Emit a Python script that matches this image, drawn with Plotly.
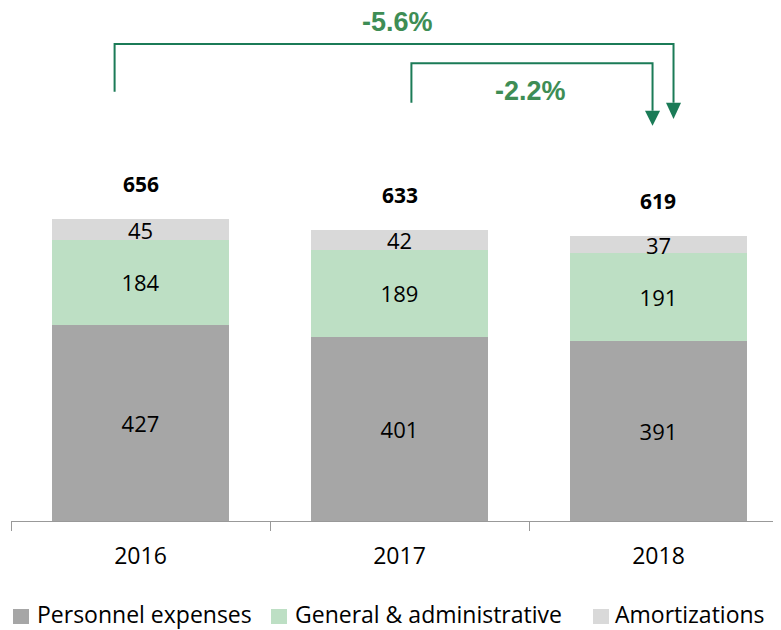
import plotly.graph_objects as go

categories = ["2016", "2017", "2018"]
personnel = [427, 401, 391]
general_admin = [184, 189, 191]
amortizations = [45, 42, 37]
totals = [656, 633, 619]

series_names = ["Personnel expenses", "General & administrative", "Amortizations"]
series_colors = ["#A6A6A6", "#BDDFC4", "#D9D9D9"]

xpos = list(range(len(categories)))

LABEL_FONT = "Open Sans, Lato, DejaVu Sans, sans-serif"
PCT_FONT = "Liberation Sans, Arial, sans-serif"
ARROW_COLOR = "#1B7B57"
PCT_COLOR = "#3E8D55"

# the page body has an 8px default margin; size the figure to fill the window
OFF = 8
W, H = 781 - OFF, 630 - OFF
ML, MB = 11 - OFF, 109
PLOT_BOTTOM = H - MB  # figure row of the x axis
PLOT_H = PLOT_BOTTOM
Y_MAX = PLOT_H / 0.46

fig = go.Figure()
for name, vals, col in zip(series_names, [personnel, general_admin, amortizations], series_colors):
    fig.add_trace(go.Bar(
        x=xpos, y=vals, name=name,
        marker=dict(color=col, line=dict(width=0)),
        width=0.687,
        text=[str(v) for v in vals],
        textposition="inside",
        insidetextanchor="middle",
        textangle=0,
        constraintext="none",
        textfont=dict(family=LABEL_FONT, size=22, color="#000000"),
        hoverinfo="skip",
        showlegend=False,
    ))

# total labels
for xi, t in zip(xpos, totals):
    fig.add_annotation(x=xi, y=t, text="<b>%d</b>" % t, showarrow=False,
                       yshift=35, yanchor="middle",
                       font=dict(family=LABEL_FONT, size=21, color="#000000"))

# change brackets
def pct(a, b):
    return "%.1f%%" % ((b / a - 1) * 100)

half_w = 0.029
brackets = [
    # x_left, x_right, y_top, y_left_bottom, y_head_top, y_tip, text_x, text_y, text
    (-0.100, 2.058, 1037, 933, 909, 874, 0.992, 1085, pct(totals[0], totals[2])),
    (1.046, 1.977, 995, 909, 892, 859, 1.506, 935, pct(totals[1], totals[2])),
]
for xl, xr, yt, ylb, yht, ytip, tx, ty, txt in brackets:
    fig.add_shape(type="path",
                  path=f"M {xl},{ylb} L {xl},{yt} L {xr},{yt} L {xr},{yht}",
                  line=dict(color=ARROW_COLOR, width=2), xref="x", yref="y")
    fig.add_shape(type="path",
                  path=f"M {xr-half_w},{yht} L {xr+half_w},{yht} L {xr},{ytip} Z",
                  line=dict(color=ARROW_COLOR, width=0), fillcolor=ARROW_COLOR,
                  xref="x", yref="y")
    fig.add_annotation(x=tx, y=ty, text="<b>%s</b>" % txt, showarrow=False,
                       yanchor="middle",
                       font=dict(family=PCT_FONT, size=27, color=PCT_COLOR))

# custom legend (square swatch + label); offsets relative to plot's bottom-left corner
legend_square_left = [2, 260, 582]
legend_text_left = [24, 282, 602]
sq_below_top, sq_below_bottom, text_below_mid = 88, 103, 93
for name, col, sx, tx in zip(series_names, series_colors, legend_square_left, legend_text_left):
    fig.add_shape(type="rect", xref="paper", yref="paper",
                  xsizemode="pixel", ysizemode="pixel", xanchor=0, yanchor=0,
                  x0=sx, x1=sx + 16,
                  y0=-sq_below_bottom, y1=-sq_below_top,
                  fillcolor=col, line=dict(width=0))
    fig.add_annotation(xref="paper", yref="paper", x=0, y=0,
                       xanchor="left", yanchor="middle",
                       xshift=tx, yshift=-text_below_mid,
                       text=name, showarrow=False,
                       font=dict(family=LABEL_FONT, size=23, color="#000000"))

fig.update_layout(
    width=W, height=H,
    margin=dict(l=ML, r=0, t=0, b=MB),
    barmode="stack",
    plot_bgcolor="#FFFFFF", paper_bgcolor="#FFFFFF",
    font=dict(family=LABEL_FONT, color="#000000"),
    showlegend=False,
    xaxis=dict(
        range=[-0.5, 2.473],
        tickmode="array", tickvals=xpos, ticktext=categories,
        ticks="", showgrid=False, zeroline=False,
        showline=True, linecolor="#999999", linewidth=1,
        tickfont=dict(family=LABEL_FONT, size=23, color="#000000"),
        ticklabelstandoff=14,
        minor=dict(tick0=-0.5, dtick=1, ticks="outside", ticklen=9,
                   tickcolor="#999999", tickwidth=1, showgrid=False),
        fixedrange=True,
    ),
    yaxis=dict(range=[0, Y_MAX], visible=False, fixedrange=True),
)

fig.write_html("out.html")
